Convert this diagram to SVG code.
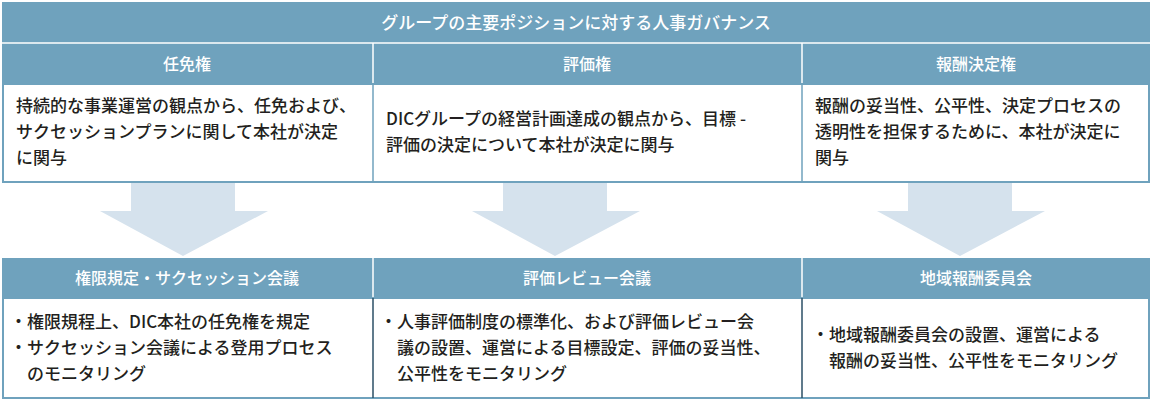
<svg xmlns="http://www.w3.org/2000/svg" width="1152" height="401" viewBox="0 0 1152 401">
<style>
.b{fill:#6fa2bd}
.w{fill:#fff;stroke:#6fa2bd;stroke-width:2}
.h{font-family:"Noto Sans CJK JP",sans-serif;font-size:16px;font-weight:500;fill:#fff;text-anchor:middle}
.t{font-family:"Noto Sans CJK JP",sans-serif;font-size:17px;font-weight:500;fill:#231f20}
.a{fill:#d5e2ed}
.d{stroke:#fff;stroke-width:1.5}
</style>
<rect x="0" y="0" width="1152" height="401" fill="#fff"/>
<g id="top">
<rect class="b" x="2" y="2" width="1148" height="82"/>
<line class="d" x1="2" y1="43" x2="1150" y2="43"/>
<line class="d" x1="373" y1="43" x2="373" y2="84"/>
<line class="d" x1="802" y1="43" x2="802" y2="84"/>
<text class="h" x="576" y="29" style="font-size:17px">グループの主要ポジションに対する人事ガバナンス</text>
<text class="h" x="187" y="70">任免権</text>
<text class="h" x="587" y="70">評価権</text>
<text class="h" x="976" y="70">報酬決定権</text>
<rect class="w" x="3" y="84" width="1146" height="98"/>
<line stroke="#6fa2bd" stroke-width="1.5" x1="373" y1="84" x2="373" y2="182"/>
<line stroke="#6fa2bd" stroke-width="1.5" x1="802" y1="84" x2="802" y2="182"/>
<text class="t" x="16" y="112">持続的な事業運営の観点から、任免および、</text>
<text class="t" x="16" y="138">サクセッションプランに関して本社が決定</text>
<text class="t" x="16" y="164">に関与</text>
<text class="t" x="386" y="125">DICグループの経営計画達成の観点から、目標 -</text>
<text class="t" x="386" y="151">評価の決定について本社が決定に関与</text>
<text class="t" x="815" y="112">報酬の妥当性、公平性、決定プロセスの</text>
<text class="t" x="815" y="138">透明性を担保するために、本社が決定に</text>
<text class="t" x="815" y="164">関与</text>
</g>
<g id="connectors">
<polygon class="a" points="131,183 235,183 235,211 268,211 183,256 100,211 131,211"/>
<polygon class="a" points="503,183 607,183 607,211 640,211 555,256 472,211 503,211"/>
<polygon class="a" points="908,183 1012,183 1012,211 1045,211 960,256 877,211 908,211"/>
</g>
<g id="bottom">
<rect class="b" x="2" y="258" width="1148" height="40"/>
<line class="d" x1="373" y1="258" x2="373" y2="298"/>
<line class="d" x1="802" y1="258" x2="802" y2="298"/>
<text class="h" x="187" y="284">権限規定・サクセッション会議</text>
<text class="h" x="587" y="284">評価レビュー会議</text>
<text class="h" x="976" y="284">地域報酬委員会</text>
<rect class="w" x="3" y="298" width="1146" height="100"/>
<line stroke="#2b4f66" stroke-width="1.5" x1="373" y1="298" x2="373" y2="398"/>
<line stroke="#2b4f66" stroke-width="1.5" x1="802" y1="298" x2="802" y2="398"/>
<text class="t" x="10" y="328">・権限規程上、DIC本社の任免権を規定</text>
<text class="t" x="10" y="354">・サクセッション会議による登用プロセス</text>
<text class="t" x="27" y="380">のモニタリング</text>
<text class="t" x="380" y="328">・人事評価制度の標準化、および評価レビュー会</text>
<text class="t" x="397" y="354">議の設置、運営による目標設定、評価の妥当性、</text>
<text class="t" x="397" y="380">公平性をモニタリング</text>
<text class="t" x="812" y="341">・地域報酬委員会の設置、運営による</text>
<text class="t" x="829" y="367">報酬の妥当性、公平性をモニタリング</text>
</g>
</svg>
